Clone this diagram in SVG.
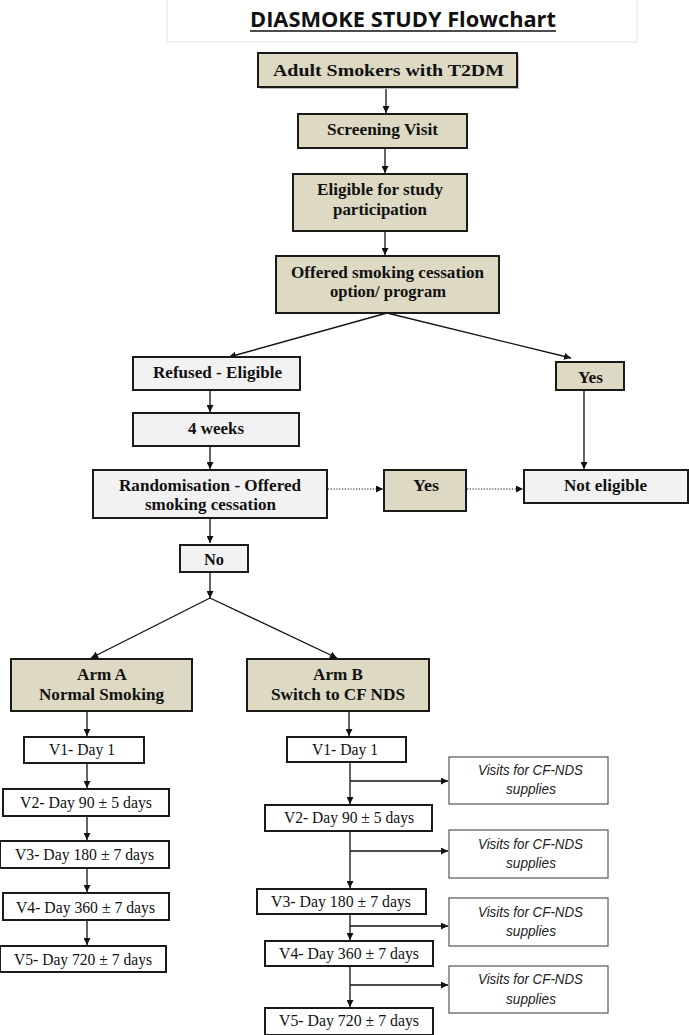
<svg xmlns="http://www.w3.org/2000/svg" width="689" height="1035" viewBox="0 0 689 1035">
<style>
.bg{fill:#ffffff}
.tan{fill:#ddd9c3;stroke:#1a1a1a;stroke-width:2}
.gry{fill:#f2f2f2;stroke:#1a1a1a;stroke-width:2}
.wht{fill:#ffffff;stroke:#1a1a1a;stroke-width:2}
.vis{fill:#ffffff;stroke:#555555;stroke-width:1.2}
.shd{fill:#bfbfbf}
.tb{font-family:"Liberation Serif","Times New Roman",serif;font-weight:bold;font-size:17px;fill:#111111}
.tr{font-family:"Liberation Serif","Times New Roman",serif;font-size:16px;fill:#111111}
.ti{font-family:"Liberation Sans",Arial,sans-serif;font-style:italic;font-size:14.5px;fill:#222222}
.ttl{font-family:"Open Sans","Liberation Sans",sans-serif;font-weight:bold;font-size:21.5px;fill:#111111}
.ln{stroke:#111111;stroke-width:1.3;fill:none}
.dot{stroke:#111111;stroke-width:1.2;fill:none;stroke-dasharray:1.2 1.6}
</style>
<defs>
<marker id="ah" viewBox="0 0 10 10" refX="10" refY="5" markerWidth="7" markerHeight="7" markerUnits="userSpaceOnUse" orient="auto">
<path d="M0,0 L10,5 L0,10 Z" fill="#111111"/>
</marker>
</defs>
<rect class="bg" x="0" y="0" width="689" height="1035"/>

<g id="title">
<rect x="167" y="-1" width="470" height="43" fill="#ffffff" stroke="#e3e3e3" stroke-width="1"/>
<text class="ttl" x="250" y="27" textLength="306" lengthAdjust="spacingAndGlyphs">DIASMOKE STUDY Flowchart</text>
<line x1="250" y1="31" x2="556" y2="31" stroke="#111111" stroke-width="1.5"/>
</g>

<g id="connectors">
<line class="ln" x1="386" y1="88" x2="386" y2="113" marker-end="url(#ah)"/>
<line class="ln" x1="385" y1="148" x2="385" y2="173" marker-end="url(#ah)"/>
<line class="ln" x1="385" y1="231" x2="385" y2="255" marker-end="url(#ah)"/>
<line class="ln" x1="387" y1="313" x2="229" y2="357" marker-end="url(#ah)"/>
<line class="ln" x1="387" y1="313" x2="571" y2="358" marker-end="url(#ah)"/>
<line class="ln" x1="210" y1="391" x2="210" y2="412" marker-end="url(#ah)"/>
<line class="ln" x1="210" y1="447" x2="210" y2="469" marker-end="url(#ah)"/>
<line class="ln" x1="584" y1="391" x2="584" y2="469" marker-end="url(#ah)"/>
<line class="dot" x1="328" y1="489" x2="383" y2="489" marker-end="url(#ah)"/>
<line class="dot" x1="467" y1="489" x2="523" y2="489" marker-end="url(#ah)"/>
<line class="ln" x1="210" y1="519" x2="210" y2="543" marker-end="url(#ah)"/>
<line class="ln" x1="210" y1="572" x2="210" y2="598" marker-end="url(#ah)"/>
<line class="ln" x1="210" y1="598" x2="91" y2="658" marker-end="url(#ah)"/>
<line class="ln" x1="210" y1="598" x2="337" y2="658" marker-end="url(#ah)"/>
<line class="ln" x1="87" y1="711" x2="87" y2="736" marker-end="url(#ah)"/>
<line class="ln" x1="87" y1="763" x2="87" y2="788" marker-end="url(#ah)"/>
<line class="ln" x1="87" y1="816" x2="87" y2="840" marker-end="url(#ah)"/>
<line class="ln" x1="87" y1="869" x2="87" y2="892" marker-end="url(#ah)"/>
<line class="ln" x1="87" y1="920" x2="87" y2="945" marker-end="url(#ah)"/>
<line class="ln" x1="349" y1="711" x2="349" y2="736" marker-end="url(#ah)"/>
<line class="ln" x1="350" y1="763" x2="350" y2="804" marker-end="url(#ah)"/>
<line class="ln" x1="350" y1="781" x2="448" y2="781" marker-end="url(#ah)"/>
<line class="ln" x1="350" y1="831" x2="350" y2="888" marker-end="url(#ah)"/>
<line class="ln" x1="350" y1="851" x2="448" y2="851" marker-end="url(#ah)"/>
<line class="ln" x1="350" y1="915" x2="350" y2="940" marker-end="url(#ah)"/>
<line class="ln" x1="350" y1="926" x2="448" y2="926" marker-end="url(#ah)"/>
<line class="ln" x1="350" y1="967" x2="350" y2="1007" marker-end="url(#ah)"/>
<line class="ln" x1="350" y1="985" x2="448" y2="985" marker-end="url(#ah)"/>
</g>

<g id="adult">
<rect class="shd" x="260" y="55" width="259" height="34"/>
<rect class="tan" x="258" y="53" width="259" height="34"/>
<text class="tb" x="273" y="76" textLength="231" lengthAdjust="spacingAndGlyphs">Adult Smokers with T2DM</text>
</g>
<g id="screening">
<rect class="tan" x="298" y="114" width="169" height="34"/>
<text class="tb" x="327" y="135" textLength="111" lengthAdjust="spacingAndGlyphs">Screening Visit</text>
</g>
<g id="eligible">
<rect class="tan" x="293" y="174" width="174" height="57"/>
<text class="tb" x="317" y="195" textLength="126" lengthAdjust="spacingAndGlyphs">Eligible for study</text>
<text class="tb" x="333" y="215" textLength="94" lengthAdjust="spacingAndGlyphs">participation</text>
</g>
<g id="offered">
<rect class="tan" x="276" y="256" width="223" height="57"/>
<text class="tb" x="291" y="278" textLength="193" lengthAdjust="spacingAndGlyphs">Offered smoking cessation</text>
<text class="tb" x="330" y="297" textLength="116" lengthAdjust="spacingAndGlyphs">option/ program</text>
</g>
<g id="refused">
<rect class="gry" x="133" y="357" width="167" height="33"/>
<text class="tb" x="153" y="378" textLength="129" lengthAdjust="spacingAndGlyphs">Refused - Eligible</text>
</g>
<g id="yes1">
<rect class="tan" x="556" y="362" width="68" height="28"/>
<text class="tb" x="578" y="383" textLength="25" lengthAdjust="spacingAndGlyphs">Yes</text>
</g>
<g id="weeks">
<rect class="gry" x="133" y="413" width="166" height="33"/>
<text class="tb" x="188" y="434" textLength="56" lengthAdjust="spacingAndGlyphs">4 weeks</text>
</g>
<g id="randomisation">
<rect class="gry" x="93" y="470" width="234" height="48"/>
<text class="tb" x="119" y="491" textLength="182" lengthAdjust="spacingAndGlyphs">Randomisation - Offered</text>
<text class="tb" x="145" y="510" textLength="131" lengthAdjust="spacingAndGlyphs">smoking cessation</text>
</g>
<g id="yes2">
<rect class="tan" x="384" y="470" width="82" height="41"/>
<text class="tb" x="413" y="491" textLength="26" lengthAdjust="spacingAndGlyphs">Yes</text>
</g>
<g id="noteligible">
<rect class="gry" x="524" y="470" width="164" height="33"/>
<text class="tb" x="564" y="491" textLength="83" lengthAdjust="spacingAndGlyphs">Not eligible</text>
</g>
<g id="no">
<rect class="gry" x="180" y="545" width="68" height="27"/>
<text class="tb" x="204" y="565" textLength="20" lengthAdjust="spacingAndGlyphs">No</text>
</g>
<g id="armA">
<rect class="tan" x="11" y="659" width="181" height="52"/>
<text class="tb" x="77" y="680" textLength="50" lengthAdjust="spacingAndGlyphs">Arm A</text>
<text class="tb" x="39" y="700" textLength="125" lengthAdjust="spacingAndGlyphs">Normal Smoking</text>
</g>
<g id="armB">
<rect class="tan" x="247" y="659" width="182" height="52"/>
<text class="tb" x="313" y="680" textLength="50" lengthAdjust="spacingAndGlyphs">Arm B</text>
<text class="tb" x="271" y="700" textLength="134" lengthAdjust="spacingAndGlyphs">Switch to CF NDS</text>
</g>
<g id="a-v1">
<rect class="wht" x="24" y="737" width="120" height="26"/>
<text class="tr" x="49" y="755" textLength="66" lengthAdjust="spacingAndGlyphs">V1- Day 1</text>
</g>
<g id="a-v2">
<rect class="wht" x="3" y="789" width="166" height="27"/>
<text class="tr" x="20" y="808" textLength="132" lengthAdjust="spacingAndGlyphs">V2- Day 90 ± 5 days</text>
</g>
<g id="a-v3">
<rect class="wht" x="0" y="841" width="169" height="27"/>
<text class="tr" x="15" y="860" textLength="139" lengthAdjust="spacingAndGlyphs">V3- Day 180 ± 7 days</text>
</g>
<g id="a-v4">
<rect class="wht" x="3" y="893" width="166" height="27"/>
<text class="tr" x="16" y="913" textLength="139" lengthAdjust="spacingAndGlyphs">V4- Day 360 ± 7 days</text>
</g>
<g id="a-v5">
<rect class="wht" x="0" y="946" width="166" height="26"/>
<text class="tr" x="14" y="965" textLength="138" lengthAdjust="spacingAndGlyphs">V5- Day 720 ± 7 days</text>
</g>
<g id="b-v1">
<rect class="wht" x="287" y="737" width="119" height="25"/>
<text class="tr" x="312" y="755" textLength="66" lengthAdjust="spacingAndGlyphs">V1- Day 1</text>
</g>
<g id="b-v2">
<rect class="wht" x="265" y="805" width="167" height="26"/>
<text class="tr" x="284" y="823" textLength="130" lengthAdjust="spacingAndGlyphs">V2- Day 90 ± 5 days</text>
</g>
<g id="b-v3">
<rect class="wht" x="257" y="889" width="169" height="25"/>
<text class="tr" x="271" y="907" textLength="140" lengthAdjust="spacingAndGlyphs">V3- Day 180 ± 7 days</text>
</g>
<g id="b-v4">
<rect class="wht" x="265" y="941" width="168" height="25"/>
<text class="tr" x="279" y="959" textLength="140" lengthAdjust="spacingAndGlyphs">V4- Day 360 ± 7 days</text>
</g>
<g id="b-v5">
<rect class="wht" x="265" y="1008" width="168" height="27"/>
<text class="tr" x="279" y="1026" textLength="140" lengthAdjust="spacingAndGlyphs">V5- Day 720 ± 7 days</text>
</g>
<g id="supplies1">
<rect class="vis" x="449" y="757" width="159" height="47"/>
<text class="ti" x="478" y="775" textLength="105" lengthAdjust="spacingAndGlyphs">Visits for CF-NDS</text>
<text class="ti" x="506" y="794" textLength="50" lengthAdjust="spacingAndGlyphs">supplies</text>
</g>
<g id="supplies2">
<rect class="vis" x="449" y="830" width="159" height="48"/>
<text class="ti" x="478" y="849" textLength="105" lengthAdjust="spacingAndGlyphs">Visits for CF-NDS</text>
<text class="ti" x="506" y="868" textLength="50" lengthAdjust="spacingAndGlyphs">supplies</text>
</g>
<g id="supplies3">
<rect class="vis" x="449" y="898" width="159" height="48"/>
<text class="ti" x="478" y="917" textLength="105" lengthAdjust="spacingAndGlyphs">Visits for CF-NDS</text>
<text class="ti" x="506" y="936" textLength="50" lengthAdjust="spacingAndGlyphs">supplies</text>
</g>
<g id="supplies4">
<rect class="vis" x="449" y="966" width="159" height="47"/>
<text class="ti" x="478" y="984" textLength="105" lengthAdjust="spacingAndGlyphs">Visits for CF-NDS</text>
<text class="ti" x="506" y="1004" textLength="50" lengthAdjust="spacingAndGlyphs">supplies</text>
</g>
</svg>
